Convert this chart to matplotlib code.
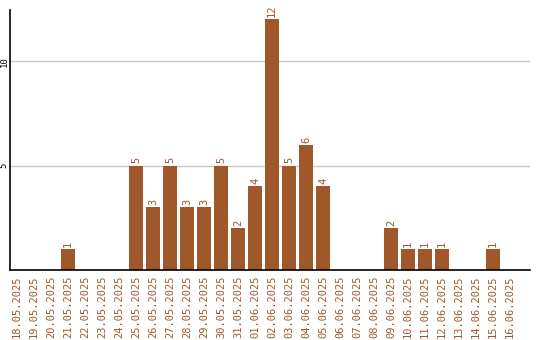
import numpy as np
import matplotlib
matplotlib.use("Agg")
import matplotlib.pyplot as plt

dates = ["18.05.2025", "19.05.2025", "20.05.2025", "21.05.2025", "22.05.2025",
         "23.05.2025", "24.05.2025", "25.05.2025", "26.05.2025", "27.05.2025",
         "28.05.2025", "29.05.2025", "30.05.2025", "31.05.2025", "01.06.2025",
         "02.06.2025", "03.06.2025", "04.06.2025", "05.06.2025", "06.06.2025",
         "07.06.2025", "08.06.2025", "09.06.2025", "10.06.2025", "11.06.2025",
         "12.06.2025", "13.06.2025", "14.06.2025", "15.06.2025", "16.06.2025"]
counts = [0, 0, 0, 1, 0, 0, 0, 5, 3, 5, 3, 3, 5, 2, 4,
          12, 5, 6, 4, 0, 0, 0, 2, 1, 1, 1, 0, 0, 1, 0]
yticks = [5, 10]

brown = "#a0572a"
fw = 14 / 17.0

fig = plt.figure(figsize=(5.4, 3.4), dpi=100)
ax = fig.add_axes([10 / 540, 70 / 340, 520 / 540, 260 / 340])

x = np.arange(len(dates))
ax.bar(x, counts, width=fw, align="edge", color=brown, zorder=3)
for xi, c in zip(x, counts):
    if c > 0:
        ax.text(xi + fw / 2, c + 0.1, str(c), rotation=90, ha="center", va="bottom",
                color=brown, family="DejaVu Sans Mono", fontsize=7.5)

ax.set_xlim(0, 520 / 17.0)
ax.set_ylim(0, 12.45)
ax.set_xticks(x + fw / 2)
ax.set_xticklabels(dates, rotation=90, color=brown, family="DejaVu Sans Mono", fontsize=7.5)
ax.set_yticks(yticks)
ax.set_yticklabels([str(t) for t in yticks], rotation=90, va="center",
                   family="DejaVu Sans Mono", fontsize=6.5)
ax.tick_params(axis="both", length=0)
ax.tick_params(axis="x", pad=4)
ax.tick_params(axis="y", pad=1)
ax.grid(axis="y", color="#c8c8c8", linewidth=1, zorder=0)
for s in ["top", "right"]:
    ax.spines[s].set_visible(False)
for s in ["left", "bottom"]:
    ax.spines[s].set_linewidth(1.2)
    ax.spines[s].set_zorder(4)

fig.savefig("out.png", dpi=100)
